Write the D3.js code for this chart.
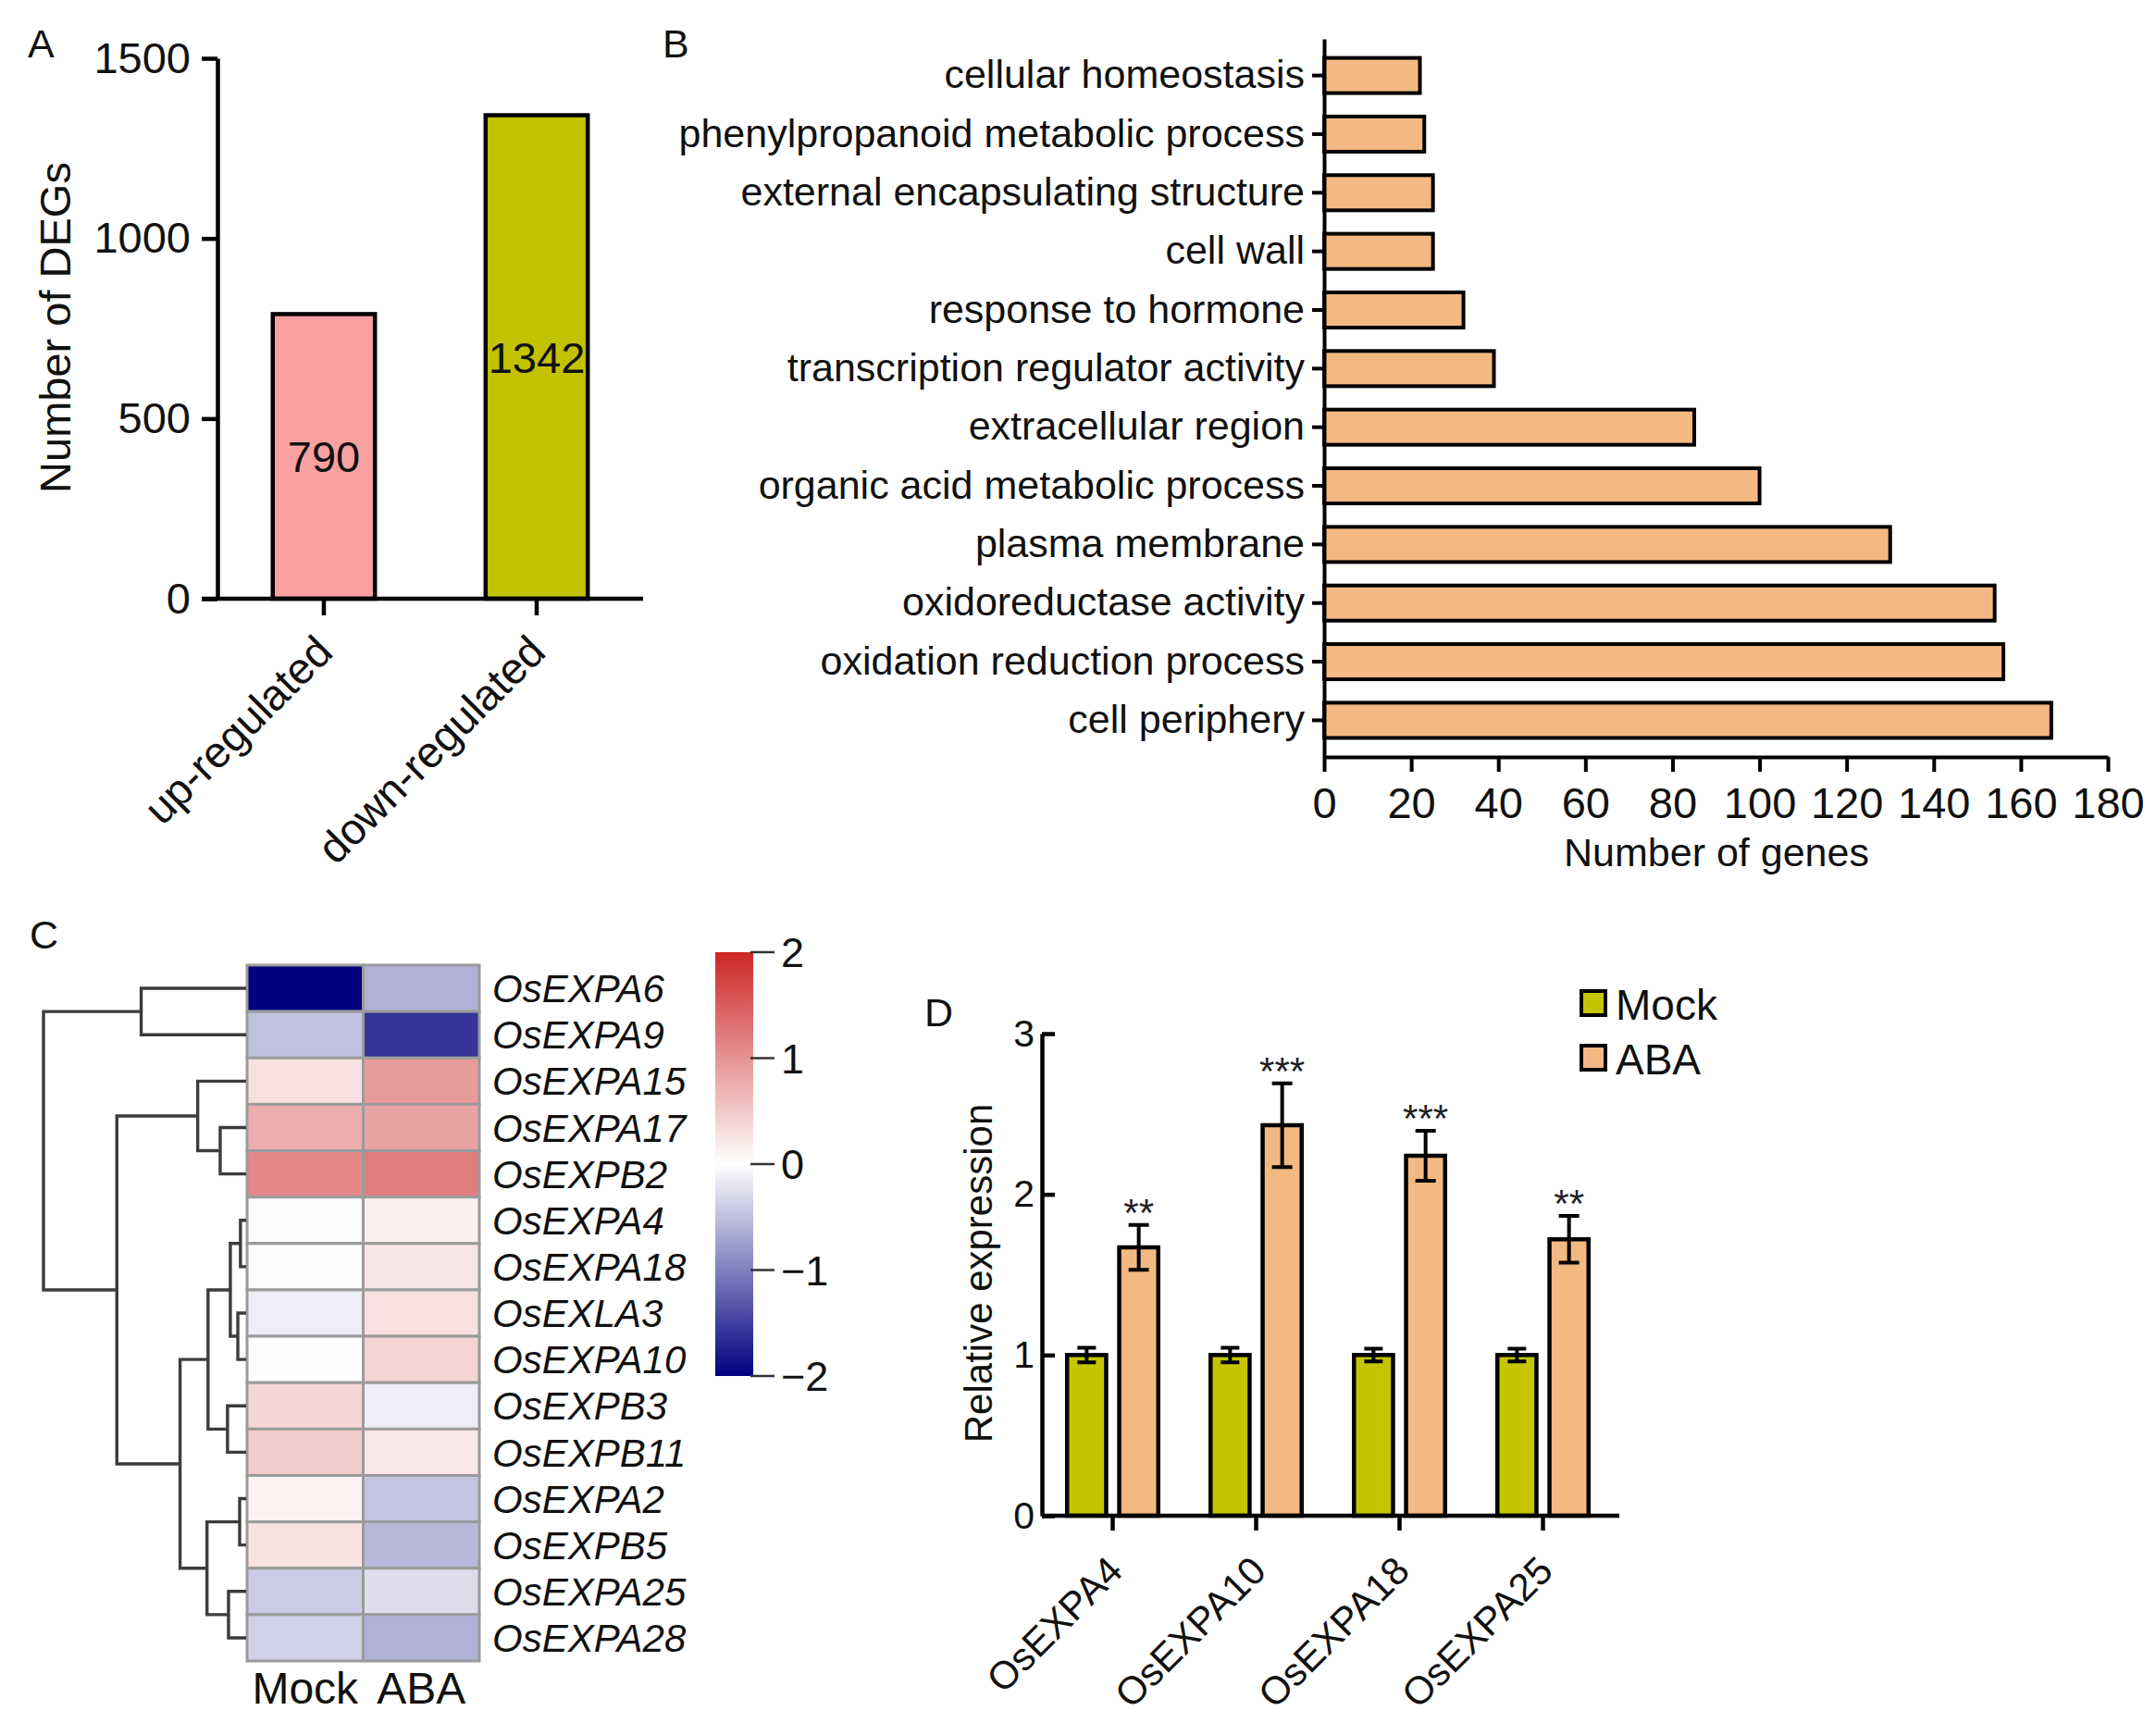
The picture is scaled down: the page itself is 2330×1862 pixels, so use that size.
<!DOCTYPE html>
<html>
<head>
<meta charset="utf-8">
<script src="https://cdn.jsdelivr.net/npm/d3@7"></script>
<style>
  body { margin: 0; background: #fff; }
  svg { display: block; font-family: "Liberation Sans", Arial, sans-serif; }
</style>
</head>
<body>
<svg id="fig" width="2330" height="1862"></svg>
<script>
// ---- A: DEG counts
const degCats = ["up-regulated", "down-regulated"];
const degCounts = [790, 1342];
const degColors = ["#F9A1A1", "#C3C200"];
const degTicks = [0, 500, 1000, 1500];

// ---- B: GO terms
const goTerms = [
  "cellular homeostasis", "phenylpropanoid metabolic process", "external encapsulating structure",
  "cell wall", "response to hormone", "transcription regulator activity", "extracellular region",
  "organic acid metabolic process", "plasma membrane", "oxidoreductase activity",
  "oxidation reduction process", "cell periphery"
];
const goCounts = [22, 23, 25, 25, 32, 39, 85, 100, 130, 154, 156, 167];
const goTicks = [0, 20, 40, 60, 80, 100, 120, 140, 160, 180];

// ---- C: heatmap (row z-scores)
const genes = ["OsEXPA6", "OsEXPA9", "OsEXPA15", "OsEXPA17", "OsEXPB2", "OsEXPA4", "OsEXPA18",
  "OsEXLA3", "OsEXPA10", "OsEXPB3", "OsEXPB11", "OsEXPA2", "OsEXPB5", "OsEXPA25", "OsEXPA28"];
const heatCols = ["Mock", "ABA"];
const mockZ = [-2.0, -0.49, 0.29, 0.76, 1.10, -0.03, -0.03, -0.13, 0.01, 0.38, 0.47, 0.12, 0.27, -0.40, -0.37];
const abaZ = [-0.62, -1.59, 0.93, 0.85, 1.20, 0.14, 0.23, 0.29, 0.40, -0.13, 0.21, -0.46, -0.56, -0.27, -0.62];
const legendTicks = [2, 1, 0, -1, -2];
// dendrogram merges: [node, child a, child b, height]
const dendroMerges = [
  ["n1", "OsEXPA4", "OsEXPA18", 0.28],
  ["n2", "OsEXLA3", "OsEXPA10", 0.41],
  ["n3", "OsEXPA2", "OsEXPB5", 0.32],
  ["n4", "OsEXPA17", "OsEXPB2", 1.28],
  ["n5", "OsEXPA25", "OsEXPA28", 0.87],
  ["n6", "OsEXPB3", "OsEXPB11", 0.92],
  ["n7", "n1", "n2", 0.78],
  ["n8", "n7", "n6", 1.88],
  ["n9", "n3", "n5", 1.93],
  ["n10", "OsEXPA15", "n4", 2.39],
  ["n11", "n8", "n9", 3.26],
  ["n12", "OsEXPA6", "OsEXPA9", 5.18],
  ["n13", "n10", "n11", 6.38],
  ["n14", "n12", "n13", 10.0]
];

// ---- D: qRT-PCR
const qGenes = ["OsEXPA4", "OsEXPA10", "OsEXPA18", "OsEXPA25"];
const groups = ["Mock", "ABA"];
const mockMean = [1, 1, 1, 1];
const mockErr = [0.045, 0.045, 0.04, 0.04];
const abaMean = [1.67, 2.43, 2.24, 1.72];
const abaErr = [0.14, 0.26, 0.155, 0.145];
const sigStars = ["**", "***", "***", "**"];
const qTicks = [0, 1, 2, 3];
const groupColors = { Mock: "#C4C400", ABA: "#F3B982" };

const svg = d3.select('#fig');
svg.append('rect').attr('width', 2330).attr('height', 1862).attr('fill', '#fff');

function styleAxis(g, fs, sw) {
  g.attr('font-family', null).attr('font-size', fs);
  g.selectAll('path, line').attr('stroke', '#000').attr('stroke-width', sw);
  g.selectAll('text').attr('fill', '#111');
}

// panel letters
[["A", 30, 62], ["B", 716, 62], ["C", 32, 1025], ["D", 999, 1109]].forEach(([t, x, y]) => {
  svg.append('text').attr('x', x).attr('y', y).attr('font-size', 43).attr('fill', '#111').text(t);
});

// =================== A ===================
const yA = d3.scaleLinear().domain([0, 1500]).range([647, 63]);
const xA = d3.scaleBand().domain(degCats).range([235, 695]).paddingInner(0.52).paddingOuter(0.26);
const gA = svg.append('g');

gA.selectAll('rect.bar').data(degCats).join('rect')
  .attr('x', d => xA(d))
  .attr('width', xA.bandwidth())
  .attr('y', (d, i) => yA(degCounts[i]))
  .attr('height', (d, i) => yA(0) - yA(degCounts[i]))
  .attr('fill', (d, i) => degColors[i])
  .attr('stroke', '#000').attr('stroke-width', 4.5);

gA.selectAll('text.val').data(degCats).join('text')
  .attr('x', d => xA(d) + xA.bandwidth() / 2)
  .attr('y', (d, i) => (yA(degCounts[i]) + yA(0)) / 2)
  .attr('dy', '0.36em')
  .attr('text-anchor', 'middle').attr('font-size', 47).attr('fill', '#111')
  .text((d, i) => degCounts[i]);

const yAxisA = gA.append('g').attr('transform', 'translate(235,0)')
  .call(d3.axisLeft(yA).tickValues(degTicks).tickFormat(d3.format('d'))
    .tickSize(17).tickPadding(12).tickSizeOuter(0));
styleAxis(yAxisA, 47, 4.5);

gA.append('line').attr('x1', 235 - 17).attr('x2', 695).attr('y1', yA(0)).attr('y2', yA(0))
  .attr('stroke', '#000').attr('stroke-width', 4.5);
gA.selectAll('line.xt').data(degCats).join('line')
  .attr('x1', d => xA(d) + xA.bandwidth() / 2).attr('x2', d => xA(d) + xA.bandwidth() / 2)
  .attr('y1', yA(0)).attr('y2', yA(0) + 18)
  .attr('stroke', '#000').attr('stroke-width', 4.5);
gA.selectAll('text.xl').data(degCats).join('text')
  .attr('transform', d => `translate(${xA(d) + xA.bandwidth() / 2 + 12},${yA(0) + 60}) rotate(-45)`)
  .attr('text-anchor', 'end').attr('font-size', 47).attr('fill', '#111')
  .text(d => d);

gA.append('text').attr('transform', 'translate(76,354) rotate(-90)')
  .attr('text-anchor', 'middle').attr('font-size', 47).attr('fill', '#111')
  .text('Number of DEGs');

// =================== B ===================
const xB = d3.scaleLinear().domain([0, 180]).range([1431, 2278]);
const yB = d3.scaleBand().domain(goTerms).range([42, 818]).paddingInner(0.4).paddingOuter(0.325);
const gB = svg.append('g');

gB.selectAll('rect').data(goTerms).join('rect')
  .attr('x', xB(0))
  .attr('y', d => yB(d))
  .attr('width', (d, i) => xB(goCounts[i]) - xB(0))
  .attr('height', yB.bandwidth())
  .attr('fill', '#F4B982')
  .attr('stroke', '#000').attr('stroke-width', 4);

const yAxisB = gB.append('g').attr('transform', `translate(${xB(0)},0)`)
  .call(d3.axisLeft(yB).tickSize(13).tickPadding(8).tickSizeOuter(0));
styleAxis(yAxisB, 43, 4);
const xAxisB = gB.append('g').attr('transform', 'translate(0,818)')
  .call(d3.axisBottom(xB).tickValues(goTicks).tickSize(16).tickPadding(17).tickSizeOuter(0));
styleAxis(xAxisB, 47, 4);

gB.append('text').attr('x', 1855).attr('y', 936).attr('text-anchor', 'middle')
  .attr('font-size', 43).attr('fill', '#111').text('Number of genes');

// =================== C ===================
const heat = d3.scaleLinear().domain([-2, 0, 2]).range(['#000080', '#ffffff', '#CD2626']);
const xC = d3.scaleBand().domain(heatCols).range([267, 518]);
const yC = d3.scaleBand().domain(genes).range([1043, 1795]);
const gC = svg.append('g');

const cells = [];
genes.forEach((g, i) => {
  cells.push({ gene: g, col: 'Mock', v: mockZ[i] });
  cells.push({ gene: g, col: 'ABA', v: abaZ[i] });
});
gC.selectAll('rect.cell').data(cells).join('rect')
  .attr('x', d => xC(d.col)).attr('y', d => yC(d.gene))
  .attr('width', xC.bandwidth()).attr('height', yC.bandwidth())
  .attr('fill', d => heat(d.v))
  .attr('stroke', '#9B9B9B').attr('stroke-width', 3);

gC.selectAll('text.gene').data(genes).join('text')
  .attr('x', 532).attr('y', d => yC(d) + yC.bandwidth() / 2).attr('dy', '0.36em')
  .attr('font-size', 42).attr('font-style', 'italic').attr('fill', '#111')
  .text(d => d);

gC.selectAll('text.col').data(heatCols).join('text')
  .attr('x', d => xC(d) + xC.bandwidth() / 2).attr('y', 1841)
  .attr('text-anchor', 'middle').attr('font-size', 48).attr('fill', '#111')
  .text(d => d);

// dendrogram
const hScale = d3.scaleLinear().domain([0, 10]).range([266, 47]);
const pos = {};
genes.forEach(g => { pos[g] = { y: yC(g) + yC.bandwidth() / 2, h: 0 }; });
const dendro = gC.append('g').attr('fill', 'none').attr('stroke', '#3c3c3c').attr('stroke-width', 3.4);
dendroMerges.forEach(([id, a, b, h]) => {
  const pa = pos[a], pb = pos[b];
  const x = hScale(h);
  dendro.append('path')
    .attr('d', `M${hScale(pa.h)},${pa.y}H${x}V${pb.y}H${hScale(pb.h)}`);
  pos[id] = { y: (pa.y + pb.y) / 2, h: h };
});

// colour key
const yKey = d3.scaleLinear().domain([-2, 2]).range([1487, 1029]);
const grad = svg.append('defs').append('linearGradient').attr('id', 'keyGrad')
  .attr('x1', 0).attr('x2', 0).attr('y1', 0).attr('y2', 1);
legendTicks.forEach(v => {
  grad.append('stop').attr('offset', (yKey(v) - 1029) / (1487 - 1029)).attr('stop-color', heat(v));
});
gC.append('rect').attr('x', 773).attr('y', yKey(2)).attr('width', 41)
  .attr('height', yKey(-2) - yKey(2)).attr('fill', 'url(#keyGrad)');
gC.selectAll('line.kt').data(legendTicks).join('line')
  .attr('x1', 811).attr('x2', 837).attr('y1', d => yKey(d)).attr('y2', d => yKey(d))
  .attr('stroke', '#333').attr('stroke-width', 2.5);
gC.selectAll('text.kt').data(legendTicks).join('text')
  .attr('x', 844).attr('y', d => yKey(d)).attr('dy', '0.36em')
  .attr('font-size', 45).attr('fill', '#111')
  .text(d => d < 0 ? '\u2212' + Math.abs(d) : d);

// =================== D ===================
const yD = d3.scaleLinear().domain([0, 3]).range([1638, 1117]);
const x0 = d3.scaleBand().domain(qGenes).range([1125, 1745]).paddingInner(0.35).paddingOuter(0.175);
const x1 = d3.scaleBand().domain(groups).range([0, x0.bandwidth()]).paddingInner(0.25).paddingOuter(0.02);
const gD = svg.append('g');

const bars = [];
qGenes.forEach((g, i) => {
  bars.push({ gene: g, grp: 'Mock', m: mockMean[i], e: mockErr[i] });
  bars.push({ gene: g, grp: 'ABA', m: abaMean[i], e: abaErr[i], star: sigStars[i] });
});

gD.selectAll('rect.bar').data(bars).join('rect')
  .attr('x', d => x0(d.gene) + x1(d.grp))
  .attr('width', x1.bandwidth())
  .attr('y', d => yD(d.m))
  .attr('height', d => yD(0) - yD(d.m))
  .attr('fill', d => groupColors[d.grp])
  .attr('stroke', '#000').attr('stroke-width', 4.5);

const cx = d => x0(d.gene) + x1(d.grp) + x1.bandwidth() / 2;
gD.selectAll('path.err').data(bars).join('path')
  .attr('fill', 'none').attr('stroke', '#000').attr('stroke-width', 4)
  .attr('d', d => {
    const w = d.grp === 'Mock' ? 10 : 11;
    const t = yD(d.m + d.e), b = yD(d.m - d.e);
    return `M${cx(d) - w},${t}H${cx(d) + w}M${cx(d)},${t}V${b}M${cx(d) - w},${b}H${cx(d) + w}`;
  });

gD.selectAll('text.star').data(bars.filter(d => d.star)).join('text')
  .attr('x', cx).attr('y', d => yD(d.m + d.e) + 1)
  .attr('text-anchor', 'middle').attr('font-size', 42).attr('fill', '#222')
  .text(d => d.star);

const yAxisD = gD.append('g').attr('transform', 'translate(1126,0)')
  .call(d3.axisLeft(yD).tickValues(qTicks).tickFormat(d3.format('d'))
    .tickSize(-14).tickPadding(8).tickSizeOuter(0));
styleAxis(yAxisD, 41, 4.5);

gD.append('line').attr('x1', 1126).attr('x2', 1750).attr('y1', yD(0)).attr('y2', yD(0))
  .attr('stroke', '#000').attr('stroke-width', 4.5);
gD.selectAll('line.xt').data(qGenes).join('line')
  .attr('x1', d => x0(d) + x0.bandwidth() / 2).attr('x2', d => x0(d) + x0.bandwidth() / 2)
  .attr('y1', yD(0)).attr('y2', yD(0) + 16)
  .attr('stroke', '#000').attr('stroke-width', 4.5);
gD.selectAll('text.xl').data(qGenes).join('text')
  .attr('transform', d => `translate(${x0(d) + x0.bandwidth() / 2 + 13},${yD(0) + 62}) rotate(-45)`)
  .attr('text-anchor', 'end').attr('font-size', 42).attr('fill', '#111')
  .text(d => d);

gD.append('text').attr('transform', 'translate(1072,1376) rotate(-90)')
  .attr('text-anchor', 'middle').attr('font-size', 42).attr('fill', '#111')
  .text('Relative expression');

// legend
const legY = d3.scaleBand().domain(groups).range([1071, 1189]).paddingInner(0);
const leg = gD.selectAll('g.leg').data(groups).join('g')
  .attr('transform', d => `translate(1709,${legY(d)})`);
leg.append('rect').attr('width', 26).attr('height', 26)
  .attr('fill', d => groupColors[d]).attr('stroke', '#000').attr('stroke-width', 4);
leg.append('text').attr('x', 37).attr('y', 31).attr('font-size', 46).attr('fill', '#111')
  .text(d => d);
</script>
</body>
</html>
